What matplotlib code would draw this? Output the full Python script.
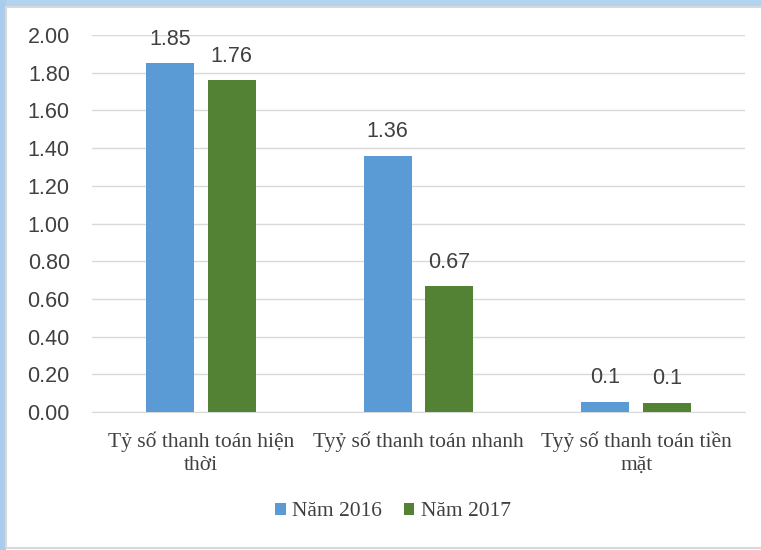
import numpy as np
import matplotlib.pyplot as plt
from matplotlib.patches import Rectangle

categories = ["Tỷ số thanh toán hiện\nthời", "Tyỷ số thanh toán nhanh", "Tyỷ số thanh toán tiền\nmặt"]
series_names = ["Năm 2016", "Năm 2017"]
values_2016 = [1.85, 1.36, 0.055]
values_2017 = [1.76, 0.67, 0.05]
labels_2016 = ["1.85", "1.36", "0.1"]
labels_2017 = ["1.76", "0.67", "0.1"]
colors = ["#5B9BD5", "#548235"]

fig = plt.figure(figsize=(7.61, 5.5), dpi=100)
fig.patch.set_facecolor("white")

# light blue window frame on top/left edges
fig.patches.append(Rectangle((0, 1 - 7 / 550), 1, 7 / 550, transform=fig.transFigure,
                             facecolor="#B4D3EE", edgecolor="none", zorder=0))
fig.patches.append(Rectangle((0, 0), 6 / 761, 1, transform=fig.transFigure,
                             facecolor="#A9CCEC", edgecolor="none", zorder=0))
fig.patches.append(Rectangle((6 / 761, 2 / 550), 1, 1 - 9 / 550, transform=fig.transFigure,
                             facecolor="none", edgecolor="#D9D9D9", lw=1.5, zorder=0))

ax = fig.add_axes([92 / 761, 1 - 412 / 550, 653 / 761, 377 / 550])
x = np.arange(len(categories))
w = 0.22
off = 0.142
b1 = ax.bar(x - off, values_2016, w, color=colors[0], label=series_names[0], zorder=3)
b2 = ax.bar(x + off, values_2017, w, color=colors[1], label=series_names[1], zorder=3)

for bars, labs in [(b1, labels_2016), (b2, labels_2017)]:
    for b, t in zip(bars, labs):
        ax.text(b.get_x() + b.get_width() / 2, b.get_height() + 0.07, t,
                ha="center", va="bottom", fontsize=15.5, color="#404040",
                family="Liberation Sans", zorder=4)

ax.set_xlim(-0.5, 2.5)
ax.set_ylim(0, 2.0)
ax.set_yticks(np.arange(0, 2.01, 0.2))
ax.set_yticklabels([f"{v:.2f}" for v in np.arange(0, 2.01, 0.2)],
                   fontsize=15.5, color="#404040", family="Liberation Sans")
ax.set_xticks(x)
ax.set_xticklabels(categories, fontsize=15.5, color="#404040", family="Liberation Serif",
                   linespacing=1.3)
ax.tick_params(axis="both", length=0)
ax.tick_params(axis="y", pad=16)
ax.tick_params(axis="x", pad=14)
ax.grid(axis="y", color="#D9D9D9", lw=1, zorder=0)
for s in ["top", "right", "left"]:
    ax.spines[s].set_visible(False)
ax.spines["bottom"].set_color("#D9D9D9")

leg = fig.legend(loc="center", bbox_to_anchor=(393 / 761, 1 - 512 / 550), ncol=2,
                 frameon=False, prop={"family": "Liberation Serif", "size": 15.5},
                 handlelength=0.5, handleheight=0.5, handletextpad=0.3, columnspacing=1.0)
for t in leg.get_texts():
    t.set_color("#404040")

fig.savefig("out.png", dpi=100)
